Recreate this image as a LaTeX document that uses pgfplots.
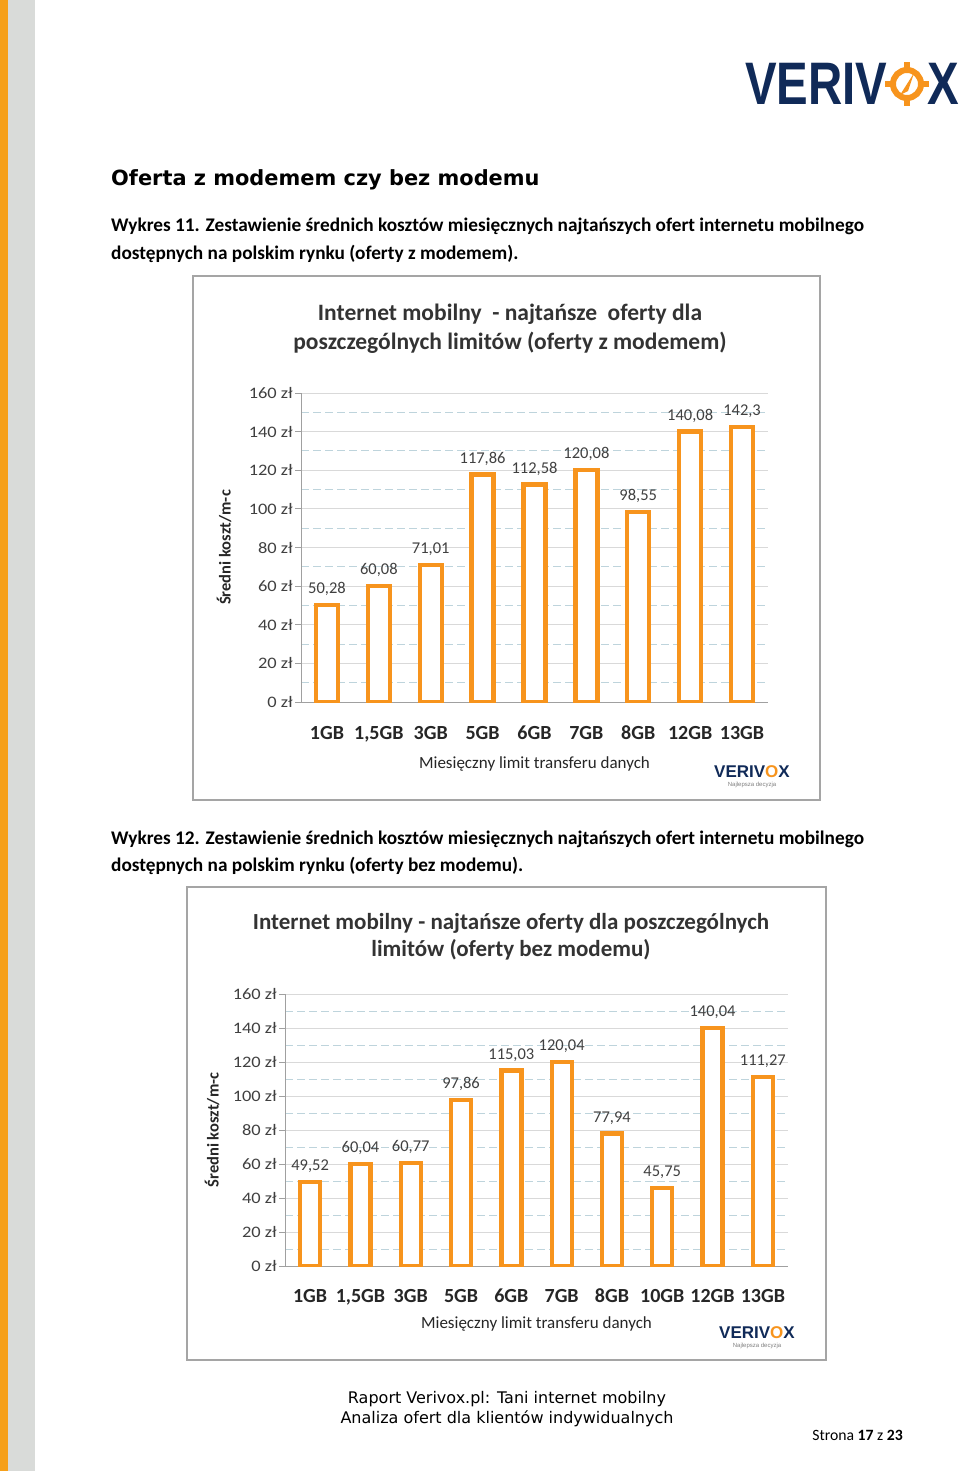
\documentclass[border=0pt]{standalone}
\usepackage{pgfplots}
\pgfplotsset{compat=1.18}
\usepackage{fontspec}
\setmainfont{Carlito}
\newfontfamily\verd{DejaVu Sans}
\newfontfamily\lsans{Liberation Sans}
\definecolor{barorange}{RGB}{247,148,29}
\definecolor{navy}{RGB}{16,42,88}
\definecolor{stripgray}{RGB}{217,219,217}
\definecolor{striporange}{RGB}{246,160,26}
\definecolor{axisgray}{RGB}{160,160,160}
\definecolor{gridgray}{RGB}{217,217,217}
\definecolor{gridblue}{RGB}{190,212,220}
\definecolor{labelgray}{RGB}{64,64,64}
\definecolor{framegray}{RGB}{165,165,165}
\pgfplotsset{
  mybars/.style={
    scale only axis, anchor=south west,
    ybar, bar shift=0pt,
    ymin=0, ymax=160,
    axis x line*=bottom, axis y line*=left,
    axis line style={-, draw=axisgray, line width=1pt},
    ytick={0,20,...,160},
    yticklabels={0 zł,20 zł,40 zł,60 zł,80 zł,100 zł,120 zł,140 zł,160 zł},
    minor ytick={10,30,...,150},
    ymajorgrids, yminorgrids,
    major grid style={draw=gridgray, line width=1pt},
    minor grid style={draw=gridblue, dash pattern=on 8pt off 4pt, line width=1pt},
    major tick length=6pt, minor tick length=0pt,
    tick align=outside,
    ytick style={draw=axisgray, line width=1pt},
    xtick style={draw=none},
    yticklabel style={font=\fontsize{16}{16}\selectfont, text=labelgray, anchor=east, inner sep=0pt, xshift=-2pt, xscale=1.15},
    xticklabel style={font=\bfseries\fontsize{20}{20}\selectfont, text=black!85, anchor=base, inner sep=0pt},
    every axis y label/.style={at={(axis description cs:0,0.5)}, anchor=center, font=\bfseries\fontsize{16.5}{16.5}\selectfont, text=black!85},
    every axis x label/.style={at={(axis description cs:0.5,0)}, anchor=base, font=\fontsize{17}{17}\selectfont, text=black!85},
    nodes near coords={\pgfmathprintnumber[fixed,precision=2,use comma,1000 sep={},assume math mode=true]{\pgfplotspointmeta}},
    every node near coord/.append style={font=\fontsize{16.5}{16.5}\selectfont, text=labelgray, anchor=south, inner sep=0pt, yshift=7pt},
  }
}
\begin{document}
\begin{tikzpicture}
\path[use as bounding box, fill=white] (0pt,0pt) rectangle (960pt,-1471pt);
\begin{scope}[x=1pt,y=-1pt]
  % left strips
  \fill[striporange] (0,0) rectangle (8,1471);
  \fill[stripgray] (8,0) rectangle (35,1471);
  % main logo
  \node[anchor=base west, inner sep=0pt, xscale=0.79, text=navy, font=\lsans\bfseries\fontsize{60}{60}\selectfont] at (745,105) {VERIV};
  \node[anchor=base west, inner sep=0pt, xscale=0.79, text=navy, font=\lsans\bfseries\fontsize{60}{60}\selectfont] at (927,105) {X};
  \draw[barorange, line width=6pt] (907,84) circle (14);
  \fill[barorange] (904,62) rectangle (910,70);
  \fill[barorange] (904,98) rectangle (910,106);
  \fill[barorange] (885,81) rectangle (893,87);
  \fill[barorange] (921,81) rectangle (929,87);
  \fill[barorange] (900,95) -- (914,73) -- (908,91) -- cycle;
  % heading
  \node[anchor=base west, inner sep=0pt, font=\verd\bfseries\fontsize{20.9}{20.9}\selectfont] at (111,186) {Oferta z modemem czy bez modemu};
  \node[anchor=base west, inner sep=0pt, font=\bfseries\fontsize{19.3}{19.3}\selectfont] at (111,232) {Wykres 11. Zestawienie średnich kosztów miesięcznych najtańszych ofert internetu mobilnego};
  \node[anchor=base west, inner sep=0pt, font=\bfseries\fontsize{19.3}{19.3}\selectfont] at (111,259) {dostępnych na polskim rynku (oferty z modemem).};
  \node[anchor=base west, inner sep=0pt, font=\bfseries\fontsize{19.3}{19.3}\selectfont] at (111,844) {Wykres 12. Zestawienie średnich kosztów miesięcznych najtańszych ofert internetu mobilnego};
  \node[anchor=base west, inner sep=0pt, font=\bfseries\fontsize{19.3}{19.3}\selectfont] at (111,871) {dostępnych na polskim rynku (oferty bez modemu).};
  % chart frames
  \draw[framegray, line width=1.5pt] (193,276) rectangle (820,800);
  \draw[framegray, line width=1.5pt] (187,887) rectangle (826,1360);
  % chart titles
  \node[anchor=base, inner sep=0pt, text=black!80, font=\bfseries\fontsize{23.5}{23.5}\selectfont] at (510,320) {Internet mobilny\ \ - najtańsze\ \ oferty dla};
  \node[anchor=base, inner sep=0pt, text=black!80, font=\bfseries\fontsize{23.5}{23.5}\selectfont] at (510,349) {poszczególnych limitów (oferty z modemem)};
  \node[anchor=base, inner sep=0pt, text=black!80, font=\bfseries\fontsize{23}{23}\selectfont] at (511,929) {Internet mobilny - najtańsze oferty dla poszczególnych};
  \node[anchor=base, inner sep=0pt, text=black!80, font=\bfseries\fontsize{23}{23}\selectfont] at (511,956) {limitów (oferty bez modemu)};
  % small logos
  \node[anchor=base, inner sep=0pt, text=navy, font=\lsans\bfseries\fontsize{17}{17}\selectfont] at (752,777) {VERIV\textcolor{barorange}{O}X};
  \node[anchor=base, inner sep=0pt, text=gray, font=\lsans\fontsize{6}{6}\selectfont] at (752,786) {Najlepsza decyzja};
  \node[anchor=base, inner sep=0pt, text=navy, font=\lsans\bfseries\fontsize{17}{17}\selectfont] at (757,1338) {VERIV\textcolor{barorange}{O}X};
  \node[anchor=base, inner sep=0pt, text=gray, font=\lsans\fontsize{6}{6}\selectfont] at (757,1347) {Najlepsza decyzja};
  % footer
  \node[anchor=base, inner sep=0pt, font=\verd\fontsize{16}{16}\selectfont] at (507,1403) {Raport Verivox.pl: Tani internet mobilny};
  \node[anchor=base, inner sep=0pt, font=\verd\fontsize{16}{16}\selectfont] at (507,1423) {Analiza ofert dla klientów indywidualnych};
  \node[anchor=base east, inner sep=0pt, font=\fontsize{15.7}{15.7}\selectfont] at (903,1440) {Strona \textbf{17} z \textbf{23}};
\end{scope}

\begin{axis}[mybars, at={(301pt,-702pt)}, width=467pt, height=309pt,
  xmin=-0.5, xmax=8.5, bar width=22pt,
  xtick={0,...,8},
  xticklabels={1GB,{1,5GB},3GB,5GB,6GB,7GB,8GB,12GB,13GB},
  xticklabel style={yshift=-31pt},
  ylabel={Średni koszt/m-c}, ylabel style={xshift=-77pt, rotate=90},
  xlabel={Miesięczny limit transferu danych}, xlabel style={yshift=-66pt}]
\addplot[draw=barorange, line width=4.3pt, fill=white] coordinates {(0,50.28) (1,60.08) (2,71.01) (3,117.86) (4,112.58) (5,120.08) (6,98.55) (7,140.08) (8,142.3)};
\end{axis}

\begin{axis}[mybars, at={(285pt,-1266pt)}, width=503pt, height=272pt,
  xmin=-0.5, xmax=9.5, bar width=20pt,
  xtick={0,...,9},
  xticklabels={1GB,{1,5GB},3GB,5GB,6GB,7GB,8GB,10GB,12GB,13GB},
  xticklabel style={yshift=-30pt},
  ylabel={Średni koszt/m-c}, ylabel style={xshift=-73pt, rotate=90},
  xlabel={Miesięczny limit transferu danych}, xlabel style={yshift=-62pt}]
\addplot[draw=barorange, line width=4.3pt, fill=white] coordinates {(0,49.52) (1,60.04) (2,60.77) (3,97.86) (4,115.03) (5,120.04) (6,77.94) (7,45.75) (8,140.04) (9,111.27)};
\end{axis}
\end{tikzpicture}
\end{document}
